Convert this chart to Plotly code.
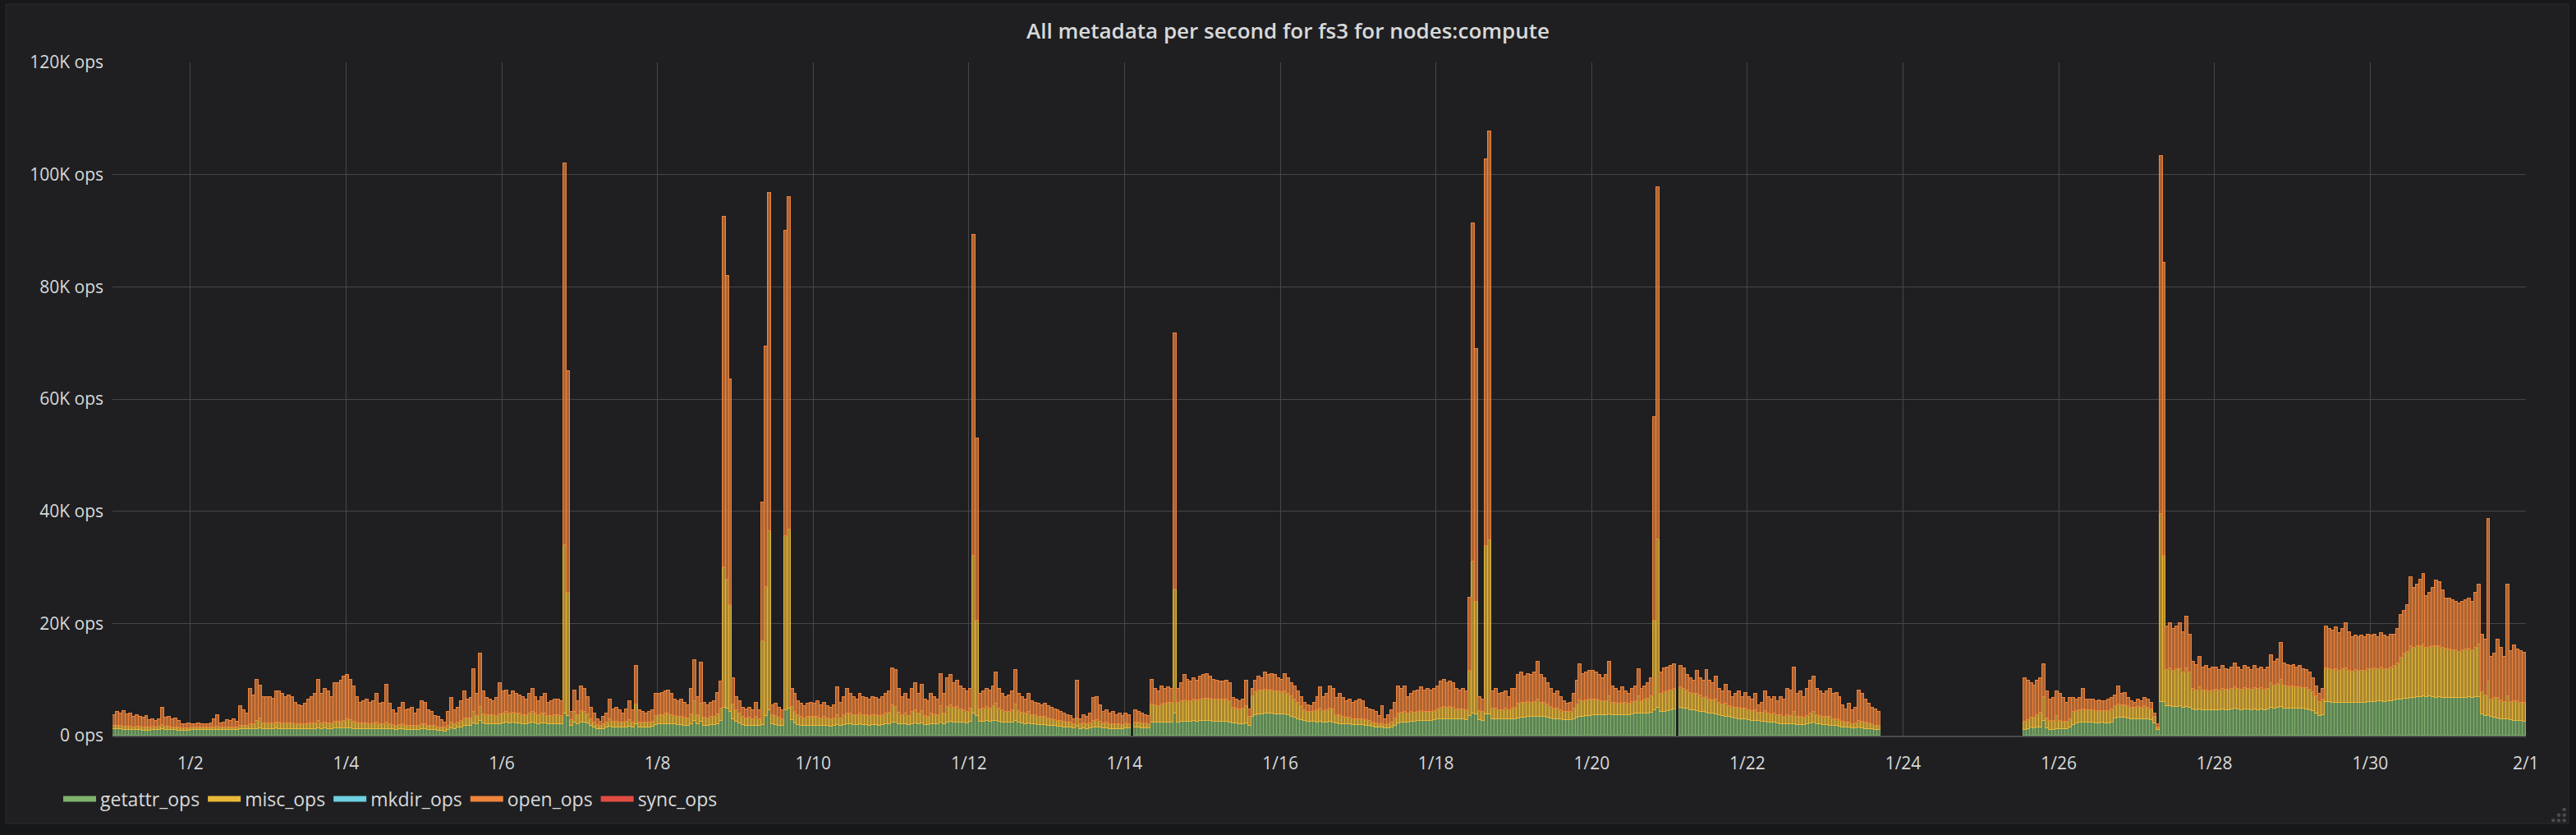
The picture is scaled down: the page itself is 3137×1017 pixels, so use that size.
import pandas as pd
import plotly.graph_objects as go

# ---------------- text / categories ----------------
title_text = "All metadata per second for fs3 for nodes:compute"
series_names = ["getattr_ops", "misc_ops", "mkdir_ops", "open_ops", "sync_ops"]
series_colors = ["#7EB26D", "#EAB839", "#6ED0E0", "#EF843C", "#E24D42"]
y_tick_vals = [0, 20, 40, 60, 80, 100, 120]            # K ops
y_tick_text = ["0 ops", "20K ops", "40K ops", "60K ops", "80K ops", "100K ops", "120K ops"]
first_hour = "2018-01-01 00:30"   # hourly samples, 1/1 .. 1/31
first_day = "2018-01-01 12:00"    # daily samples

# ---------------- hourly values, K ops, one row per day (1/1 .. 1/31) ----------------
getattr_ops = [
    [1.1,1.1,1.1,1.0,1.0,1.0,1.0,1.0,1.0,0.9,0.9,0.9,1.0,1.0,1.0,1.1,1.0,1.0,1.0,1.0,0.9,0.9,0.9,0.9],
    [1.0,1.0,1.0,1.0,1.0,1.0,1.0,1.0,1.0,1.0,1.0,1.0,1.0,1.0,1.0,1.1,1.1,1.1,1.2,1.2,1.2,1.3,1.2,1.2],
    [1.2,1.2,1.3,1.2,1.2,1.2,1.2,1.2,1.1,1.1,1.1,1.2,1.2,1.2,1.2,1.3,1.2,1.3,1.2,1.2,1.3,1.3,1.3,1.3],
    [1.3,1.3,1.2,1.2,1.2,1.2,1.2,1.2,1.2,1.2,1.1,1.1,1.2,1.1,1.1,1.0,1.1,1.1,1.0,1.0,1.0,1.0,1.0,1.1],
    [1.1,1.0,1.0,1.0,0.9,0.9,0.8,1.0,1.3,1.2,1.4,1.5,1.7,1.8,1.8,2.2,2.0,2.6,2.2,2.1,2.1,2.1,2.0,2.1],
    [2.2,2.3,2.2,2.3,2.2,2.2,2.1,2.1,2.2,2.3,2.2,2.1,2.2,2.2,2.0,2.0,2.1,2.0,2.0,4.0,3.5,1.8,2.3,2.0],
    [2.4,2.3,2.2,1.8,1.5,1.2,1.1,1.2,1.4,1.6,1.5,1.5,1.5,1.4,1.5,1.6,1.5,2.0,1.5,1.5,1.5,1.5,1.6,1.9],
    [2.0,2.0,2.1,2.1,2.0,2.0,1.9,1.9,1.8,1.8,2.0,2.6,2.0,2.5,1.8,1.8,1.9,1.9,2.1,2.6,5.0,4.8,4.2,3.0],
    [2.5,2.2,1.9,1.8,1.8,1.7,1.8,1.7,1.9,3.5,4.5,2.0,1.9,1.8,1.7,4.5,4.8,2.8,2.2,1.9,1.8,1.7,1.8,1.8],
    [1.8,1.8,1.7,1.8,1.7,1.6,1.7,1.9,1.7,1.9,2.0,2.0,1.9,1.9,2.0,1.9,1.9,1.8,1.9,1.9,1.8,1.9,2.0,2.1],
    [2.4,2.3,2.1,2.0,2.0,1.9,2.1,2.2,2.0,2.2,1.9,1.9,2.0,2.0,2.0,2.4,2.1,2.4,2.5,2.4,2.4,2.3,2.3,2.2],
    [2.5,4.0,3.5,2.5,2.5,2.6,2.5,2.6,2.7,2.5,2.4,2.3,2.3,2.4,2.6,2.3,2.2,2.1,2.2,2.0,2.0,1.9,1.9,1.9],
    [1.8,1.7,1.7,1.6,1.6,1.5,1.5,1.4,1.3,1.6,1.2,1.3,1.2,1.3,1.5,1.5,1.4,1.3,1.3,1.2,1.2,1.2,1.2,1.1],
    [1.3,1.3,0,1.4,1.4,1.3,1.3,1.3,2.4,2.3,2.3,2.4,2.4,2.4,2.4,4.0,2.4,2.5,2.5,2.5,2.5,2.6,2.5,2.6],
    [2.6,2.6,2.6,2.5,2.5,2.5,2.5,2.5,2.4,2.2,2.2,2.1,2.1,2.2,1.8,3.4,3.7,3.8,3.8,3.9,3.9,3.9,3.8,3.8],
    [3.8,3.8,3.6,3.4,3.2,3.0,2.8,2.6,2.5,2.5,2.5,2.4,2.5,2.4,2.4,2.5,2.4,2.2,2.1,2.0,2.0,2.0,1.9,1.9],
    [1.9,1.9,1.8,1.7,1.6,1.5,1.4,1.4,1.3,1.3,1.4,1.8,2.2,2.3,2.3,2.4,2.5,2.5,2.6,2.6,2.6,2.7,2.7,2.8],
    [2.9,3.0,3.0,3.0,3.0,3.0,2.9,2.9,2.9,2.8,3.5,4.0,3.8,2.8,2.7,3.8,3.8,3.0,3.0,2.9,2.9,3.0,2.9,3.0],
    [3.0,3.1,3.2,3.2,3.3,3.3,3.3,3.4,3.3,3.3,3.2,3.1,3.0,3.0,2.9,2.8,2.8,2.8,3.0,3.2,3.4,3.4,3.5,3.5],
    [3.6,3.6,3.6,3.6,3.6,3.8,3.6,3.6,3.6,3.7,3.7,3.7,3.8,3.9,4.0,3.9,4.0,4.0,4.1,4.5,5.0,4.2,4.3,4.4],
    [4.6,4.7,0,5.0,4.9,4.8,4.6,4.5,4.4,4.3,4.2,4.1,4.0,3.9,3.8,3.6,3.5,3.4,3.3,3.2,3.1,3.0,3.0,2.9],
    [2.8,2.7,2.7,2.6,2.5,2.5,2.4,2.3,2.3,2.2,2.1,2.0,2.0,2.0,2.1,1.9,1.9,1.9,2.0,2.2,2.3,2.1,2.0,1.9],
    [1.9,1.8,1.7,1.7,1.6,1.5,1.4,1.4,1.3,1.3,1.4,1.3,1.2,1.2,1.1,1.0,1.0,0,0,0,0,0,0,0],
    [0,0,0,0,0,0,0,0,0,0,0,0,0,0,0,0,0,0,0,0,0,0,0,0],
    [0,0,0,0,0,0,0,0,0,0,0,0,0,1.0,1.2,1.4,1.3,1.4,1.5,2.7,1.3,1.0,1.0,1.1],
    [1.1,1.1,1.2,1.4,1.9,2.2,2.3,2.3,2.3,2.3,2.3,2.2,2.2,2.3,2.2,2.2,2.4,3.1,3.2,3.2,3.2,3.1,3.0,3.0],
    [3.0,3.0,3.0,2.9,2.8,2.2,1.0,6.0,6.0,5.2,5.2,5.1,5.1,5.2,5.0,5.1,5.0,4.7,4.6,4.7,4.6,4.6,4.5,4.5],
    [4.6,4.6,4.7,4.6,4.6,4.7,4.8,4.7,4.6,4.7,4.7,4.6,4.7,4.6,4.7,4.6,4.7,5.0,4.9,5.0,5.1,4.9,4.9,4.9],
    [4.9,4.9,4.8,4.8,4.7,4.6,4.4,4.0,3.5,3.6,6.0,6.0,5.9,5.9,5.8,5.9,5.9,5.8,5.8,5.9,5.8,5.8,5.9,6.0],
    [6.0,6.0,6.1,6.1,6.0,6.1,6.2,6.3,6.4,6.5,6.6,6.6,6.8,6.8,6.9,6.9,7.0,6.9,7.0,6.9,6.8,6.9,6.8,6.8],
    [6.8,6.8,6.7,6.7,6.8,6.8,6.9,6.8,6.9,6.9,3.8,3.5,3.6,3.3,3.2,3.1,3.0,2.9,3.0,2.8,2.7,2.7,2.6,2.5],
]

misc_ops = [
    [0.6,0.6,0.7,0.6,0.6,0.6,0.5,0.6,0.6,0.5,0.5,0.5,0.6,0.5,0.6,0.8,0.6,0.6,0.5,0.5,0.5,0.4,0.4,0.4],
    [0.4,0.4,0.4,0.4,0.4,0.4,0.4,0.5,0.6,0.4,0.4,0.5,0.5,0.5,0.5,0.7,0.6,0.6,0.9,0.9,1.4,1.8,1.0,1.0],
    [1.0,1.0,1.1,1.1,1.0,1.0,1.0,1.0,0.9,0.9,0.9,0.9,1.0,1.0,1.0,1.3,1.0,1.1,1.0,1.0,1.2,1.2,1.2,1.3],
    [1.6,1.5,1.3,1.1,1.0,1.0,1.0,0.9,1.0,1.1,0.9,0.9,1.2,0.9,0.8,0.8,0.8,0.9,0.8,0.8,0.8,0.7,0.8,0.9],
    [0.9,0.8,0.7,0.7,0.6,0.6,0.6,0.8,1.0,0.9,0.9,1.2,1.4,1.3,1.3,2.0,1.5,2.5,1.6,1.5,1.5,1.5,1.5,1.7],
    [1.8,1.9,1.7,1.8,1.7,1.7,1.6,1.5,1.7,1.9,1.7,1.6,1.7,1.8,1.5,1.5,1.6,1.6,1.5,30.0,22.0,1.0,1.9,1.6],
    [2.0,1.9,1.6,1.2,0.9,0.7,0.6,0.8,0.9,1.3,1.0,1.0,0.9,0.9,1.0,1.2,0.9,3.5,0.9,0.8,0.8,0.8,0.9,1.6],
    [1.7,1.7,1.8,1.8,1.7,1.5,1.5,1.5,1.4,1.3,1.8,3.5,1.6,3.2,1.4,1.3,1.4,1.5,1.7,2.3,25.0,23.0,19.0,2.6],
    [2.0,1.8,1.4,1.3,1.4,1.2,1.5,1.2,15.0,23.0,32.0,1.6,1.6,1.4,1.2,31.0,32.0,2.3,2.0,1.7,1.5,1.4,1.6,1.6],
    [1.5,1.6,1.4,1.5,1.4,1.3,1.4,1.8,1.4,1.7,2.0,1.9,1.8,1.7,1.9,1.8,1.8,1.7,1.8,1.8,1.7,1.8,1.9,2.0],
    [3.0,2.8,2.0,1.7,1.9,1.6,2.1,2.3,1.9,2.2,1.6,1.5,1.9,1.8,1.6,2.8,1.9,2.7,2.9,2.6,2.7,2.4,2.3,2.1],
    [2.4,28.0,17.0,2.2,2.4,2.5,2.4,2.6,3.0,2.4,2.1,1.9,2.0,2.2,2.9,2.1,1.9,1.8,2.1,1.7,1.6,1.5,1.5,1.5],
    [1.3,1.2,1.1,1.1,1.0,1.0,0.9,0.9,0.8,1.5,0.8,0.9,0.8,0.9,1.2,1.3,1.1,0.9,1.0,0.9,0.9,0.8,0.9,0.8],
    [0.9,0.8,0,1.0,1.0,0.9,0.9,0.8,3.2,3.1,3.0,3.2,3.3,3.4,3.4,22.0,3.5,3.6,3.8,3.7,3.7,3.8,3.8,3.9],
    [4.0,4.0,4.0,3.9,3.9,3.9,3.9,3.9,3.8,2.8,2.7,2.6,2.7,3.0,1.6,3.6,4.0,4.2,4.2,4.3,4.2,4.2,4.1,4.1],
    [4.0,4.1,3.9,3.6,3.3,2.9,2.5,2.0,1.8,1.7,1.9,2.1,2.4,2.0,2.1,2.4,2.3,1.5,1.5,1.3,1.2,1.2,1.1,1.1],
    [1.1,1.1,1.0,0.9,0.8,0.7,0.6,0.8,0.6,0.7,0.9,1.3,1.8,1.8,1.9,1.6,1.7,1.6,1.6,1.8,1.6,1.6,1.5,1.6],
    [1.8,2.0,2.1,2.0,2.1,2.0,1.8,1.8,1.8,1.7,8.0,27.0,20.0,1.6,1.5,30.0,31.0,1.8,1.9,1.7,1.7,1.8,1.6,1.9],
    [2.0,2.6,2.7,2.6,2.7,2.6,2.7,3.0,2.6,2.5,2.3,2.0,1.8,1.9,1.6,1.5,1.4,1.5,1.8,2.3,2.9,2.7,2.8,2.9],
    [2.9,2.8,2.7,2.6,2.6,3.2,2.3,2.2,2.1,2.2,2.1,2.0,2.2,2.3,3.0,2.3,2.5,2.6,2.9,16.0,30.0,3.2,3.4,3.5],
    [3.5,3.6,0,3.6,3.5,3.2,3.0,2.9,3.0,2.8,2.6,2.8,2.5,2.4,2.6,2.2,2.1,2.3,2.0,1.9,1.9,2.0,1.8,1.9],
    [1.8,1.7,1.8,1.5,1.6,1.9,1.6,1.5,1.6,1.4,1.5,1.4,1.6,1.5,2.2,1.4,1.4,1.3,1.5,1.7,1.9,1.6,1.5,1.4],
    [1.4,1.5,1.3,1.3,1.2,1.0,0.9,1.0,0.8,0.9,1.3,1.2,1.1,1.0,0.9,0.8,0.7,0,0,0,0,0,0,0],
    [0,0,0,0,0,0,0,0,0,0,0,0,0,0,0,0,0,0,0,0,0,0,0,0],
    [0,0,0,0,0,0,0,0,0,0,0,0,0,1.5,1.6,1.8,1.9,2.2,2.6,4.2,1.8,1.6,1.7,2.4],
    [1.5,1.4,1.3,1.6,2.3,2.2,2.2,2.4,2.2,2.2,2.2,2.2,2.2,2.1,2.2,2.2,2.3,2.2,2.4,2.2,2.2,2.1,2.0,2.0],
    [2.1,2.0,2.2,2.1,1.9,1.2,0.5,33.5,26.0,6.5,6.8,6.4,6.7,6.6,6.3,6.9,6.2,3.6,3.5,3.9,3.4,3.5,3.4,3.5],
    [3.6,3.5,3.7,3.6,3.6,3.7,3.9,3.7,3.6,3.8,3.7,3.6,3.8,3.7,3.8,3.6,3.7,4.4,4.1,4.2,4.8,4.0,3.9,3.9],
    [3.9,3.8,3.9,3.7,3.8,3.6,3.3,3.0,2.5,2.8,6.0,5.9,5.8,6.0,5.8,5.9,6.1,5.8,5.6,5.8,5.7,5.8,5.7,5.9],
    [5.9,6.0,5.8,6.1,5.9,5.8,6.0,6.1,6.5,7.4,8.0,8.4,9.2,8.9,9.0,9.1,9.3,8.7,8.8,9.0,9.2,9.1,8.9,8.7],
    [8.6,8.4,8.5,8.3,8.4,8.5,8.6,8.4,8.8,9.3,4.0,3.6,6.0,3.2,3.5,3.6,3.3,3.1,4.0,3.2,3.5,3.4,3.3,3.3],
]

open_ops = [
    [1.9,2.6,2.1,2.8,2.2,2.4,1.8,2.0,1.8,1.8,2.1,1.4,1.4,1.2,1.4,3.1,1.6,1.8,1.4,1.6,1.2,0.8,0.7,0.9],
    [0.7,0.6,0.8,0.7,0.7,0.7,0.8,1.5,2.1,0.8,0.9,1.3,1.1,1.5,1.0,3.4,2.8,2.3,6.2,5.0,7.4,5.9,4.7,4.7],
    [4.7,4.4,5.5,5.6,5.2,4.7,4.9,4.7,3.9,3.4,3.2,3.6,4.2,4.7,5.2,7.3,5.2,5.9,5.7,4.7,6.8,6.8,7.3,7.9],
    [7.9,7.2,6.3,4.6,3.7,4.0,4.2,3.8,4.0,5.1,3.7,3.9,6.7,3.7,2.6,2.2,3.1,3.9,2.7,2.9,3.2,2.3,2.9,4.2],
    [3.9,2.7,2.5,1.8,1.8,1.3,0.9,2.4,4.4,2.4,2.7,3.5,4.8,3.3,3.6,7.6,3.9,9.5,4.1,3.1,2.8,2.6,3.2,5.5],
    [3.9,3.9,3.2,3.8,3.5,3.2,3.2,2.8,3.5,4.1,3.0,2.5,3.0,3.4,2.4,2.7,2.7,2.8,2.7,68.0,39.5,1.4,3.9,2.6],
    [4.4,4.1,3.1,2.0,1.6,1.1,0.8,1.3,1.7,3.5,2.2,2.5,2.1,1.7,2.2,3.4,2.1,7.0,2.1,1.9,1.7,1.9,2.0,3.9],
    [3.7,3.9,4.0,4.2,3.7,2.9,2.8,3.0,2.7,2.3,4.5,7.3,3.3,7.3,2.7,2.3,2.6,2.8,3.8,4.7,62.5,54.2,40.3,4.7],
    [2.4,2.2,1.7,1.6,1.8,1.6,2.6,1.6,24.6,42.9,60.2,1.8,2.2,1.8,1.6,54.5,59.2,3.2,3.2,2.6,2.4,2.1,2.3,2.5],
    [2.4,2.8,2.3,2.6,2.1,2.1,2.3,4.9,2.8,3.3,4.3,3.5,3.2,2.8,3.5,3.2,3.0,2.9,3.2,3.0,2.9,3.2,3.5,3.8],
    [6.6,6.6,4.2,3.2,3.5,2.9,4.1,4.8,3.5,4.7,2.9,2.8,3.5,3.1,2.8,5.8,3.4,5.2,5.4,4.3,4.7,4.1,3.7,3.6],
    [3.4,57.2,32.5,2.7,3.0,3.2,3.2,3.6,5.6,3.4,2.9,2.7,2.8,3.3,6.2,3.0,2.8,2.5,3.1,2.5,2.3,2.3,2.0,2.3],
    [2.1,2.1,1.9,1.8,1.6,1.5,1.3,1.2,0.9,6.7,1.0,1.5,1.3,1.8,4.0,4.1,2.9,2.0,2.2,1.9,2.1,1.7,1.9,1.6],
    [1.8,1.6,0,2.1,1.8,1.8,1.5,1.4,4.4,2.9,2.6,3.2,2.6,2.8,2.5,45.7,2.4,3.2,4.5,3.8,3.4,3.9,3.5,4.0],
    [4.2,4.4,3.9,3.6,3.4,3.2,3.2,3.4,3.1,1.7,1.5,1.5,1.6,4.6,1.3,1.3,2.1,2.5,2.3,3.1,2.7,2.9,2.9,2.4],
    [2.2,3.1,2.8,2.3,2.3,2.0,1.6,1.3,1.1,1.0,1.5,2.4,3.7,2.5,2.9,3.9,3.6,3.0,3.8,3.4,3.0,3.2,2.9,3.2],
    [3.4,3.2,2.2,2.1,2.1,2.0,1.5,3.0,1.1,1.7,2.2,2.8,4.8,4.2,4.6,2.9,3.2,3.8,3.9,4.2,3.9,4.0,3.9,3.9],
    [4.1,4.6,4.9,4.3,4.5,4.3,3.6,3.4,3.6,3.4,13.1,60.3,45.2,2.5,2.2,68.9,72.9,3.1,3.4,2.8,3.0,3.1,2.4,3.4],
    [3.3,5.1,5.4,4.7,5.0,4.9,5.3,6.8,4.9,4.5,3.8,3.2,2.6,3.0,2.4,1.9,1.5,1.6,2.6,4.3,6.4,4.9,5.0,5.1],
    [5.0,4.9,4.5,4.1,4.6,6.2,2.9,2.5,2.2,2.7,2.1,1.7,2.3,2.6,4.8,2.1,2.3,2.7,3.3,36.3,62.7,3.9,4.3,4.3],
    [4.4,4.4,0,3.9,3.6,2.8,2.7,2.4,4.1,3.2,3.0,4.8,3.3,3.0,4.1,2.5,2.3,3.4,2.6,1.8,2.4,2.9,2.1,2.8],
    [2.3,2.0,2.9,1.3,1.8,3.5,2.9,2.6,3.0,2.6,3.3,3.0,4.7,4.6,7.9,4.1,4.6,3.7,4.8,5.9,6.3,4.6,4.4,4.1],
    [4.6,5.0,4.4,4.6,4.1,2.9,2.4,3.3,2.4,2.8,5.4,4.9,4.1,3.5,3.0,2.9,2.5,0,0,0,0,0,0,0],
    [0,0,0,0,0,0,0,0,0,0,0,0,0,0,0,0,0,0,0,0,0,0,0,0],
    [0,0,0,0,0,0,0,0,0,0,0,0,0,7.8,7.0,6.1,5.8,6.2,6.2,5.8,4.8,3.8,4.1,4.4],
    [4.8,4.3,3.3,3.8,2.5,2.0,2.2,3.6,1.9,2.0,1.9,1.7,1.9,1.7,1.7,2.0,2.0,1.8,3.2,2.0,2.2,1.6,1.1,0.8],
    [1.3,1.1,1.5,1.4,1.1,0.6,0.5,63.8,52.3,7.8,8.0,7.5,7.7,8.2,7.2,9.2,6.8,4.8,4.5,5.5,4.1,4.3,4.0,4.1],
    [3.9,3.6,4.0,3.7,3.5,3.7,4.2,3.7,3.5,3.9,3.7,3.5,3.9,3.6,3.6,3.5,3.7,4.9,4.1,4.4,6.7,4.0,3.8,3.6],
    [3.8,3.4,3.7,3.4,3.2,3.1,2.6,1.8,1.4,1.9,7.5,7.1,7.1,7.4,6.7,7.2,8.0,6.9,6.2,6.1,6.1,6.2,6.0,6.1],
    [5.9,6.0,5.7,6.1,5.9,5.7,5.8,5.6,6.1,7.6,7.6,8.2,12.3,10.6,11.0,11.8,12.6,9.3,9.6,10.4,11.6,11.3,10.2,8.9],
    [9.0,8.9,8.7,8.6,8.7,8.8,8.9,8.7,9.7,10.7,10.2,10.0,29.0,7.6,8.0,10.4,9.3,8.1,20.0,9.1,9.9,9.3,9.2,9.0],
]

# daily values, K ops (too small to show at this scale)
mkdir_ops = [0,0,0,0,0,0,0,0,0,0,0,0,0,0,0,0,0,0,0,0,0,0,0,0,0,0,0,0,0,0,0]
sync_ops  = [0,0,0,0,0,0,0,0,0,0,0,0,0,0,0,0,0,0,0,0,0,0,0,0,0,0,0,0,0,0,0]

# ---------------- build ----------------
def flatten(rows):
    return [v for r in rows for v in r]

def nz(vals):
    return [v if v else None for v in vals]

def rgba(hex_color, a):
    h = hex_color.lstrip("#")
    return "rgba(%d,%d,%d,%.2f)" % (int(h[0:2], 16), int(h[2:4], 16), int(h[4:6], 16), a)

hourly = flatten(getattr_ops)
hours = pd.date_range(first_hour, periods=len(hourly), freq="h")
days = pd.date_range(first_day, periods=len(mkdir_ops), freq="D")

series = {
    "getattr_ops": (hours, flatten(getattr_ops)),
    "misc_ops": (hours, flatten(misc_ops)),
    "mkdir_ops": (days, mkdir_ops),
    "open_ops": (hours, flatten(open_ops)),
    "sync_ops": (days, sync_ops),
}
bar_width_ms = 3600 * 1000

fig = go.Figure()
for name, color in zip(series_names, series_colors):
    x, vals = series[name]
    fig.add_trace(go.Bar(
        x=x, y=nz(vals), name=name, width=bar_width_ms, showlegend=False,
        marker=dict(color=rgba(color, 0.68), line=dict(color=color, width=1)),
        hoverinfo="skip",
    ))

# legend entries (Grafana-like dash swatches)
for name, color in zip(series_names, series_colors):
    fig.add_trace(go.Scatter(
        x=[None], y=[None], mode="lines", name=name,
        line=dict(color=color, width=7), hoverinfo="skip",
    ))

# ---------------- layout ----------------
W, H = 3137, 1017
L, R, T, B = 137, 61, 76, 121
pw, ph = W - L - R, H - T - B

def px_x(p):
    return (p - L) / pw

def px_y(p):
    return (H - B - p) / ph

text_color = "#d8d9da"
grid_color = "#464648"

shapes = [dict(
    type="rect", xref="paper", yref="paper", layer="below",
    x0=px_x(7), x1=px_x(3128), y0=px_y(1003), y1=px_y(5),
    fillcolor="#1f1f21", line=dict(color="#2c2c2e", width=1),
)]
# panel resize handle dots (bottom-right corner)
for cx, cy in [(3122.7, 986.0), (3116.0, 992.7), (3122.7, 992.7),
               (3109.3, 999.3), (3116.0, 999.3), (3122.7, 999.3)]:
    r = 2.3
    shapes.append(dict(
        type="circle", xref="paper", yref="paper", layer="above",
        x0=px_x(cx - r), x1=px_x(cx + r), y0=px_y(cy + r), y1=px_y(cy - r),
        fillcolor="#4a4a4c", line=dict(width=0),
    ))

fig.update_layout(
    width=W, height=H,
    margin=dict(l=L, r=R, t=T, b=B, autoexpand=False),
    paper_bgcolor="#161719",
    plot_bgcolor="rgba(0,0,0,0)",
    barmode="stack", bargap=0,
    font=dict(family="Open Sans", color=text_color, size=21),
    title=dict(
        text=title_text, x=0.5, xref="container", xanchor="center",
        y=1 - 38 / H, yref="container", yanchor="middle",
        font=dict(family="Open Sans", size=26, color=text_color, weight=600),
    ),
    shapes=shapes,
    legend=dict(
        orientation="h", x=px_x(72), xanchor="left", y=px_y(973), yanchor="middle",
        font=dict(family="Open Sans", size=23, color=text_color),
        bgcolor="rgba(0,0,0,0)", itemwidth=40, traceorder="normal",
    ),
    xaxis=dict(
        type="date",
        range=["2018-01-01 00:00", "2018-02-01 00:01"],
        tick0="2018-01-02", dtick=2 * 86400000, tickformat="%-m/%-d",
        showgrid=True, gridcolor=grid_color, gridwidth=1,
        showline=True, linecolor="#4c4c4e", linewidth=2,
        ticks="", ticklabelstandoff=14,
        tickfont=dict(family="Open Sans", size=21, color=text_color),
        zeroline=False, fixedrange=True,
    ),
    yaxis=dict(
        range=[0, 120], tickvals=y_tick_vals, ticktext=y_tick_text,
        showgrid=True, gridcolor=grid_color, gridwidth=1,
        zeroline=False, ticks="", ticklabelstandoff=10,
        tickfont=dict(family="Open Sans", size=21, color=text_color),
        fixedrange=True,
    ),
)

fig.write_html(
    "out.html",
    config={"displayModeBar": False},
    post_script="document.body.style.margin='0';document.body.style.overflow='hidden';",
)
